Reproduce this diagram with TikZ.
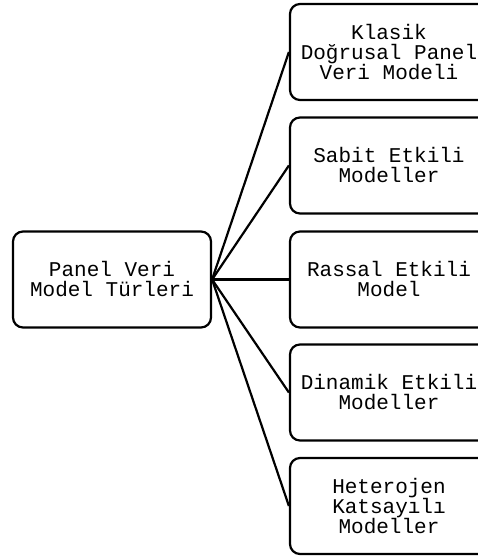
\documentclass[tikz,border=0pt]{standalone}
\usepackage{fontspec}
\setmonofont{Liberation Mono}
\usetikzlibrary{positioning}

\begin{document}
\begin{tikzpicture}[x=1pt, y=1pt,
			model/.style={draw, rectangle, rounded corners=10pt, line width=2.2pt, minimum width=198pt, minimum height=96pt, inner sep=4pt, font=\ttfamily\fontsize{21}{20}\selectfont},
			every text node part/.style={align=center}]
			\clip (0,0) rectangle (478,-560);
			\node[model, align=center](root) at (112, -279.5) {Panel Veri \\ Model Türleri};
			
			\node[model, align=center](type1) at (389, -52) {Klasik \\ Doğrusal Panel \\ Veri Modeli};
			\draw[line width=2.2pt] (root.east) -- (type1.west);
			
			\node[model, align=center](type2) at (389, -165.5) {Sabit Etkili \\ Modeller};
			\draw[line width=2.2pt] (root.east) -- (type2.west);
			
			\node[model, align=center](type3) at (389, -279.5) {Rassal Etkili \\ Model};
			\draw[line width=2.2pt] (root.east) -- (type3.west);
			
			\node[model, align=center](type4) at (389, -392.5) {Dinamik Etkili \\ Modeller};
			\draw[line width=2.2pt] (root.east) -- (type4.west);
			
			\node[model, align=center](type5) at (389, -506) {Heterojen \\ Katsayılı \\ Modeller};
			\draw[line width=2.2pt] (root.east) -- (type5.west);
			\end{tikzpicture}
\end{document}
